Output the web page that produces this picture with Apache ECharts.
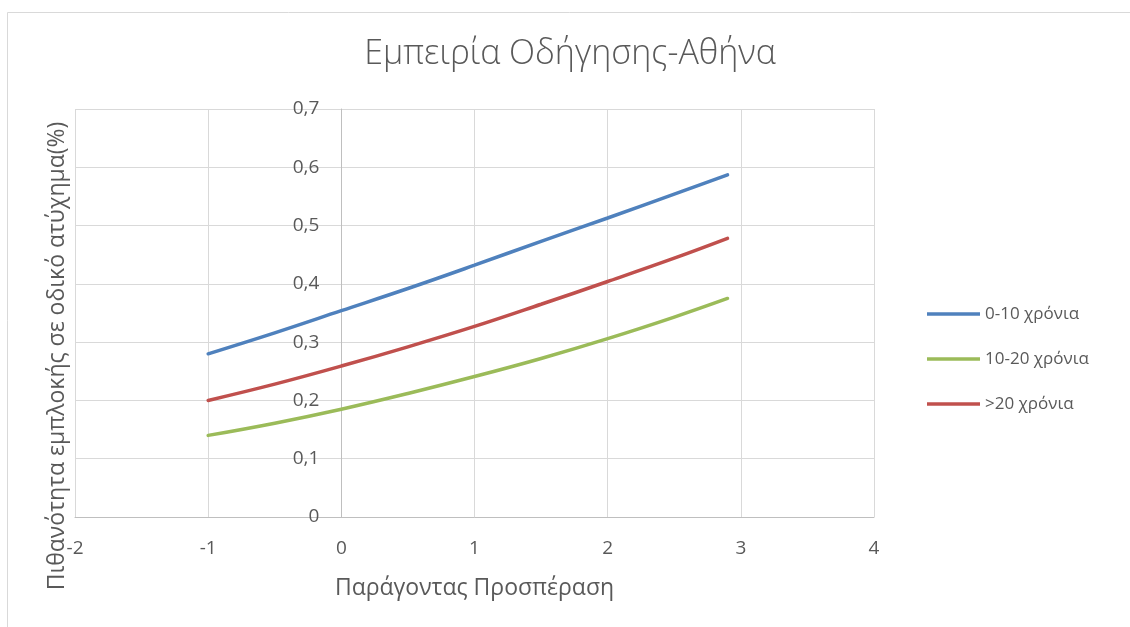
<!DOCTYPE html>
<html>
<head>
<meta charset="utf-8">
<script src="https://cdn.jsdelivr.net/npm/echarts@6/dist/echarts.min.js"></script>
<style>
  html, body { margin: 0; padding: 0; background: #ffffff; }
  #chart { width: 1130px; height: 627px; }
</style>
</head>
<body>
<div id="chart"></div>
<script>
// Passing factor values (x) and probability of involvement in a road accident
const xValues = [-1, -0.5, 0, 0.5, 1, 1.5, 2, 2.5, 2.9];
const seriesNames = ['0-10 χρόνια', '10-20 χρόνια', '>20 χρόνια'];
const exp0to10 = [0.280, 0.316, 0.354, 0.392, 0.432, 0.473, 0.513, 0.554, 0.587];
const exp10to20 = [0.140, 0.161, 0.185, 0.212, 0.241, 0.272, 0.306, 0.343, 0.375];
const expOver20 = [0.200, 0.228, 0.259, 0.292, 0.327, 0.365, 0.404, 0.444, 0.478];
const seriesColors = ['#4f81bd', '#9bbb59', '#c0504d'];

const titleText = 'Εμπειρία Οδήγησης-Αθήνα';
const xAxisName = 'Παράγοντας Προσπέραση';
const yAxisName = 'Πιθανότητα εμπλοκής σε οδικό ατύχημα(%)';

const FONT = '"Open Sans", "Noto Sans", sans-serif';
const TEXT = '#595959';
const GRID = '#d9d9d9';

// plot box
const GRID_LEFT = 75, GRID_RIGHT = 256, GRID_TOP = 109, GRID_BOTTOM = 110;
const X_MIN = -2, X_MAX = 4;
const plotWidth = 1130 - GRID_LEFT - GRID_RIGHT;
// shift the value axis so it crosses the horizontal axis at x = 0
const yAxisShift = -plotWidth * (0 - X_MIN) / (X_MAX - X_MIN);

const pairs = (ys) => xValues.map((x, i) => [x, ys[i]]);
const allSeries = [exp0to10, exp10to20, expOver20];

const chart = echarts.init(document.getElementById('chart'), null, { renderer: 'canvas' });

chart.setOption({
  backgroundColor: '#ffffff',
  animation: false,
  title: {
    text: titleText,
    left: 565,
    textAlign: 'center',
    top: 32,
    textStyle: { fontFamily: FONT, fontSize: 34, fontWeight: 300, color: TEXT }
  },
  legend: {
    orient: 'vertical',
    left: 922,
    top: 299,
    icon: 'rect',
    itemWidth: 53,
    itemHeight: 3.5,
    itemGap: 25,
    data: seriesNames,
    textStyle: { fontFamily: FONT, fontSize: 17, lineHeight: 20, color: TEXT }
  },
  grid: { left: GRID_LEFT, right: GRID_RIGHT, top: GRID_TOP, bottom: GRID_BOTTOM, containLabel: false },
  xAxis: {
    type: 'value',
    min: X_MIN,
    max: X_MAX,
    interval: 1,
    name: xAxisName,
    nameLocation: 'middle',
    nameGap: 60,
    nameTextStyle: { fontFamily: FONT, fontSize: 23, color: TEXT },
    axisLine: { show: true, lineStyle: { color: '#bfbfbf', width: 1 } },
    axisTick: { show: false },
    axisLabel: { margin: 22, fontFamily: FONT, fontSize: 19, color: TEXT },
    splitLine: { show: true, lineStyle: { color: GRID, width: 1 } }
  },
  yAxis: {
    type: 'value',
    min: 0,
    max: 0.7,
    interval: 0.1,
    offset: yAxisShift,
    axisLine: { show: true, onZero: false, lineStyle: { color: '#bfbfbf', width: 1 } },
    axisTick: { show: false },
    axisLabel: {
      margin: 22,
      fontFamily: FONT,
      fontSize: 19,
      color: TEXT,
      formatter: (v) => (Math.round(v * 10) / 10).toString().replace('.', ',')
    },
    splitLine: { show: true, lineStyle: { color: GRID, width: 1 } }
  },
  graphic: [
    {
      type: 'rect',
      left: 5,
      top: 10,
      shape: { width: 1200, height: 700 },
      style: { fill: 'none', stroke: GRID, lineWidth: 1 },
      silent: true,
      z: -10
    },
    {
      type: 'text',
      x: 57,
      y: 356,
      rotation: Math.PI / 2,
      style: {
        text: yAxisName,
        fontFamily: FONT,
        fontSize: 23,
        fill: TEXT,
        textAlign: 'center',
        textVerticalAlign: 'middle'
      }
    }
  ],
  series: allSeries.map((ys, i) => ({
    name: seriesNames[i],
    type: 'line',
    smooth: 0.4,
    symbol: 'none',
    data: pairs(ys),
    lineStyle: { color: seriesColors[i], width: 3.5, cap: 'round' },
    itemStyle: { color: seriesColors[i] }
  }))
});
</script>
</body>
</html>
